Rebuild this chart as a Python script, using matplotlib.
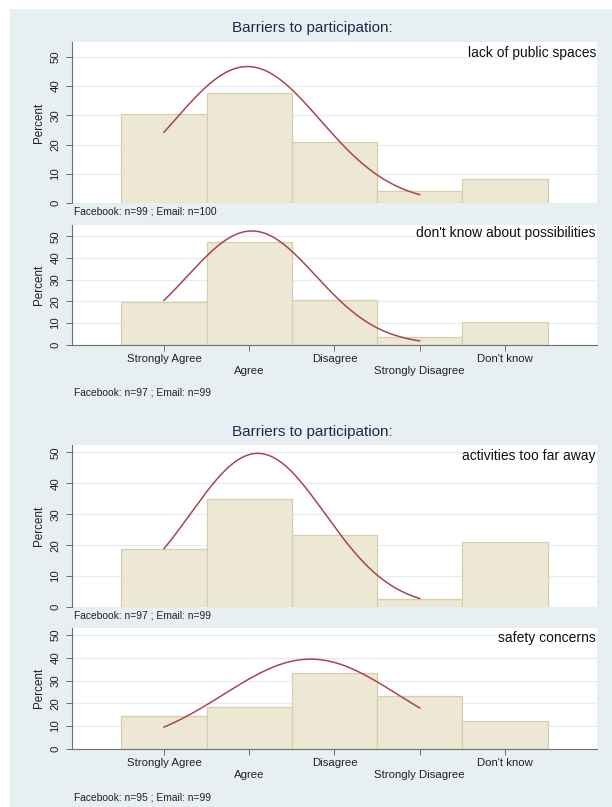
import numpy as np
import matplotlib
matplotlib.use("Agg")
import matplotlib.pyplot as plt
from matplotlib.patches import Rectangle
from matplotlib.transforms import blended_transform_factory

plt.rcParams['font.family'] = ['Liberation Sans', 'DejaVu Sans']

# ---------------- data ----------------
categories = ["Strongly Agree", "Agree", "Disagree", "Strongly Disagree", "Don't know"]
cat_codes = [1, 2, 3, 4, 5]

panel_labels = ["lack of public spaces", "don't know about possibilities",
                "activities too far away", "safety concerns"]
pct_public_spaces = [30.4, 37.6, 20.8, 4.1, 8.1]
pct_possibilities = [19.7, 47.2, 20.7, 3.7, 10.4]
pct_too_far = [18.8, 35.0, 23.3, 2.6, 20.9]
pct_safety = [14.5, 18.2, 33.5, 23.1, 12.1]

# normal-density overlay: peak height, mean, sd
normal_peak = [46.7, 52.5, 49.7, 39.4]
normal_mean = [1.98, 2.03, 2.10, 2.72]
normal_sd = [0.855, 0.75, 0.79, 1.02]
normal_from, normal_to = 1, 4

sample_notes = ["Facebook: n=99 ; Email: n=100", "Facebook: n=97 ; Email: n=99",
                "Facebook: n=97 ; Email: n=99", "Facebook: n=95 ; Email: n=99"]
block_title = "Barriers to participation:"
y_ticks = [0, 10, 20, 30, 40, 50]

# ---------------- style / layout ----------------
W, H = 612, 807
BG = '#e8eff2'
BAR_FILL = '#ece8d3'
BAR_EDGE = '#d6cfa9'
CURVE = '#a8454f'
AXIS = '#6e6e6e'
GRID = '#e6edf0'

fig = plt.figure(figsize=(W / 100, H / 100), dpi=100)
fig.patch.set_facecolor('white')
fig.add_artist(Rectangle((10 / W, 0), 1 - 10 / W, 1 - 9 / H,
                         transform=fig.transFigure, facecolor=BG,
                         edgecolor='none', zorder=0))

def fx(x):
    return x / W

def fy(y):
    return 1 - y / H

left_px, right_px = 71.5, 597
# top, bottom (px), ymax, show x labels, note y, label y
layout = [
    (42.0, 203.0, 55.1, False, 212.0, 53.0),
    (224.5, 344.5, 55.5, True, 392.7, 233.5),
    (445.0, 607.0, 52.4, False, 616.0, 456.0),
    (628.0, 748.7, 53.1, True, 797.7, 637.7),
]
series = [pct_public_spaces, pct_possibilities, pct_too_far, pct_safety]
titles_y = {0: 28.3, 2: 431.7}

for i, (top, bot, ymax, show_x, note_y, lab_y) in enumerate(layout):
    ax = fig.add_axes([fx(left_px), fy(bot), fx(right_px) - fx(left_px),
                       (bot - top) / H])
    ax.set_facecolor('white')
    ax.set_xlim(-0.085, 6.08)
    ax.set_ylim(0, ymax)

    ax.bar(cat_codes, series[i], width=1.0, color=BAR_FILL,
           edgecolor=BAR_EDGE, linewidth=0.9, zorder=2)

    xs = np.linspace(normal_from, normal_to, 300)
    ys = normal_peak[i] * np.exp(-(xs - normal_mean[i]) ** 2 / (2 * normal_sd[i] ** 2))
    ax.plot(xs, ys, color=CURVE, lw=1.1, zorder=3)

    ax.set_yticks(y_ticks)
    ax.set_yticklabels([str(t) for t in y_ticks], rotation=90, va='center',
                       fontsize=8.2, color='#222222')
    ax.tick_params(axis='y', length=4.5, width=0.7, color=AXIS, pad=3.5)
    ax.yaxis.grid(True, color=GRID, lw=0.9)
    ax.set_axisbelow(True)

    for s in ['top', 'right']:
        ax.spines[s].set_visible(False)
    ax.spines['left'].set_color(AXIS)
    ax.spines['left'].set_linewidth(0.8)

    if show_x:
        ax.spines['bottom'].set_color(AXIS)
        ax.spines['bottom'].set_linewidth(0.8)
        ax.set_xticks(cat_codes)
        ax.set_xticklabels([''] * len(cat_codes))
        ax.tick_params(axis='x', length=4.5, width=0.7, color=AXIS)
        tr = blended_transform_factory(ax.transData, fig.transFigure)
        for k, (c, name) in enumerate(zip(cat_codes, categories)):
            ypix = bot + 14.8 if k % 2 == 0 else bot + 26.5
            ax.text(c, fy(ypix), name, transform=tr, ha='center', va='center',
                    fontsize=8.2, color='#222222')
    else:
        ax.spines['bottom'].set_visible(False)
        ax.set_xticks([])

    fig.text(fx(39), fy((top + bot) / 2), 'Percent', rotation=90,
             ha='center', va='center', fontsize=8.4, color='#222222')
    fig.text(fx(596), fy(lab_y), panel_labels[i], ha='right', va='center',
             fontsize=10, color='#111111')
    fig.text(fx(73.5), fy(note_y), sample_notes[i], ha='left', va='center',
             fontsize=7.4, color='#222222')
    if i in titles_y:
        fig.text(fx(312), fy(titles_y[i]), block_title, ha='center',
                 va='center', fontsize=11, color='#1c2b4c')

fig.savefig('out.png', dpi=100, facecolor=fig.get_facecolor())
